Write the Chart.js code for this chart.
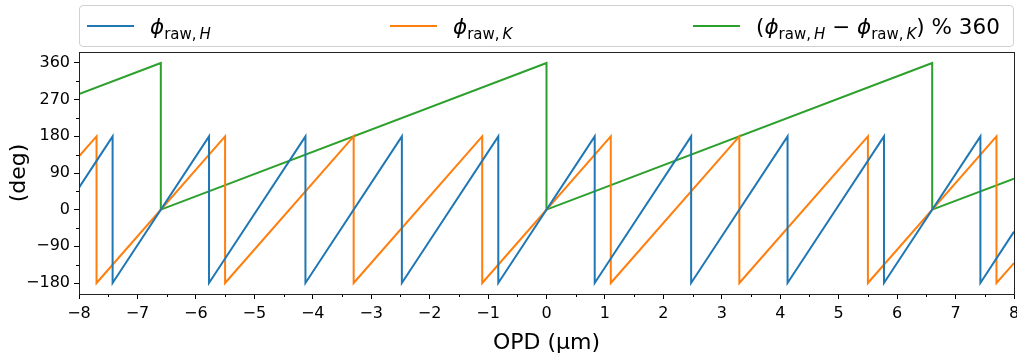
<!DOCTYPE html>
<html>
<head>
<meta charset="utf-8">
<script src="https://cdn.jsdelivr.net/npm/chart.js@4/dist/chart.umd.min.js"></script>
<style>
  html,body{margin:0;padding:0;background:#fff;}
  #wrap{position:relative;width:1017px;height:358px;}
  canvas{position:absolute;left:0;top:0;}
  #legend{position:absolute;left:79px;top:5px;width:933px;height:40px;border:1px solid #d0d0d0;border-radius:4px;background:#fff;
    font-family:"DejaVu Sans",sans-serif;font-size:21.5px;color:#000;}
  .item{position:absolute;top:0;height:40px;display:flex;align-items:center;white-space:nowrap;}
  .sw{display:inline-block;width:47px;height:2px;margin-right:16px;}
  sub{font-size:15px;vertical-align:-5px;line-height:0;}
  i{font-style:italic;}
</style>
</head>
<body>
<div id="wrap">
<canvas id="c" width="1017" height="358"></canvas>
<div id="legend">
  <div class="item" style="left:7px"><span class="sw" style="background:#1f77b4"></span><span><i>ϕ</i><sub>raw,&thinsp;<i>H</i></sub></span></div>
  <div class="item" style="left:310px"><span class="sw" style="background:#ff7f0e"></span><span><i>ϕ</i><sub>raw,&thinsp;<i>K</i></sub></span></div>
  <div class="item" style="left:613px"><span class="sw" style="background:#2ca02c"></span><span>(<i>ϕ</i><sub>raw,&thinsp;<i>H</i></sub> − <i>ϕ</i><sub>raw,&thinsp;<i>K</i></sub>) % 360</span></div>
</div>
</div>
<script>
// ---- data ----
const opdH = [-8, -7.425, -7.425, -5.775, -5.775, -4.125, -4.125, -2.475, -2.475, -0.825, -0.825, 0.825, 0.825, 2.475, 2.475, 4.125, 4.125, 5.775, 5.775, 7.425, 7.425, 8];
const phiH = [54, 180, -180, 180, -180, 180, -180, 180, -180, 180, -180, 180, -180, 180, -180, 180, -180, 180, -180, 180, -180, -54];
const opdK = [-8, -7.7, -7.7, -5.5, -5.5, -3.3, -3.3, -1.1, -1.1, 1.1, 1.1, 3.3, 3.3, 5.5, 5.5, 7.7, 7.7, 8];
const phiK = [131, 180, -180, 180, -180, 180, -180, 180, -180, 180, -180, 180, -180, 180, -180, 180, -180, -131];
const opdD = [-8, -6.6, -6.6, 0, 0, 6.6, 6.6, 8];
const phiD = [284, 360, 0, 360, 0, 360, 0, 76];
const xTicks = [-8, -7, -6, -5, -4, -3, -2, -1, 0, 1, 2, 3, 4, 5, 6, 7, 8];
const yTicks = [-180, -90, 0, 90, 180, 270, 360];
const xMinorStep = 0.5;
const yMinorStep = 45;

const pts = (xs, ys) => xs.map((x, i) => ({x: x, y: ys[i]}));
const fmt = v => (v < 0 ? '\u2212' + Math.abs(v) : String(v));
const FONT = '"DejaVu Sans", sans-serif';

const framePlugin = {
  id: 'frame',
  afterDatasetsDraw(chart) {
    const {ctx, chartArea: a, scales} = chart;
    ctx.save();
    ctx.strokeStyle = '#000';
    ctx.lineWidth = 1;
    ctx.beginPath();
    const xs = scales.x, ys = scales.y;
    for (let v = xs.min; v <= xs.max + 1e-9; v += xMinorStep) {
      if (xTicks.includes(v)) continue;
      const px = Math.round(xs.getPixelForValue(v)) + 0.5;
      ctx.moveTo(px, a.bottom); ctx.lineTo(px, a.bottom + 3);
    }
    for (let v = -180 - yMinorStep * 4; v <= 400; v += yMinorStep) {
      if (yTicks.includes(v) || v < ys.min || v > ys.max) continue;
      const py = Math.round(ys.getPixelForValue(v)) + 0.5;
      ctx.moveTo(a.left, py); ctx.lineTo(a.left - 3, py);
    }
    ctx.stroke();
    ctx.strokeStyle = '#222';
    ctx.strokeRect(Math.round(a.left) + 0.5, Math.round(a.top) + 0.5, Math.round(a.right - a.left), Math.round(a.bottom - a.top));
    ctx.restore();
  }
};

new Chart(document.getElementById('c'), {
  type: 'line',
  data: {
    datasets: [
      {label: 'phiH', data: pts(opdH, phiH), borderColor: '#1f77b4', borderWidth: 2, pointRadius: 0, tension: 0, fill: false},
      {label: 'phiK', data: pts(opdK, phiK), borderColor: '#ff7f0e', borderWidth: 2, pointRadius: 0, tension: 0, fill: false},
      {label: 'diff', data: pts(opdD, phiD), borderColor: '#2ca02c', borderWidth: 2, pointRadius: 0, tension: 0, fill: false}
    ]
  },
  options: {
    responsive: false,
    animation: false,
    devicePixelRatio: 1,
    layout: {padding: {top: 52, right: 3, left: 0, bottom: 0}, autoPadding: false},
    plugins: {legend: {display: false}, tooltip: {enabled: false}},
    elements: {line: {borderJoinStyle: 'miter', borderCapStyle: 'butt'}},
    scales: {
      x: {
        type: 'linear', min: -8, max: 8,
        afterBuildTicks: s => { s.ticks = xTicks.map(v => ({value: v})); },
        afterFit: s => { s.height = 64; s.paddingLeft = 0; s.paddingRight = 0; },
        ticks: {callback: v => fmt(v), font: {family: FONT, size: 16}, color: '#000', padding: 5, maxRotation: 0, autoSkip: false},
        grid: {drawOnChartArea: false, drawTicks: true, tickLength: 5, color: '#000'},
        border: {color: '#222', width: 1},
        title: {display: true, text: 'OPD (μm)', font: {family: FONT, size: 22}, color: '#000', padding: {top: 2, bottom: 2}}
      },
      y: {
        type: 'linear', min: -207, max: 387,
        afterBuildTicks: s => { s.ticks = yTicks.map(v => ({value: v})); },
        afterFit: s => { s.width = 79; s.paddingTop = 0; s.paddingBottom = 0; },
        ticks: {callback: v => fmt(v), font: {family: FONT, size: 16}, color: '#000', padding: 4, autoSkip: false},
        grid: {drawOnChartArea: false, drawTicks: true, tickLength: 5, color: '#000'},
        border: {color: '#222', width: 1},
        title: {display: true, text: '(deg)', font: {family: FONT, size: 22}, color: '#000', padding: {top: 6, bottom: 2}}
      }
    }
  },
  plugins: [framePlugin]
});
</script>
</body>
</html>
